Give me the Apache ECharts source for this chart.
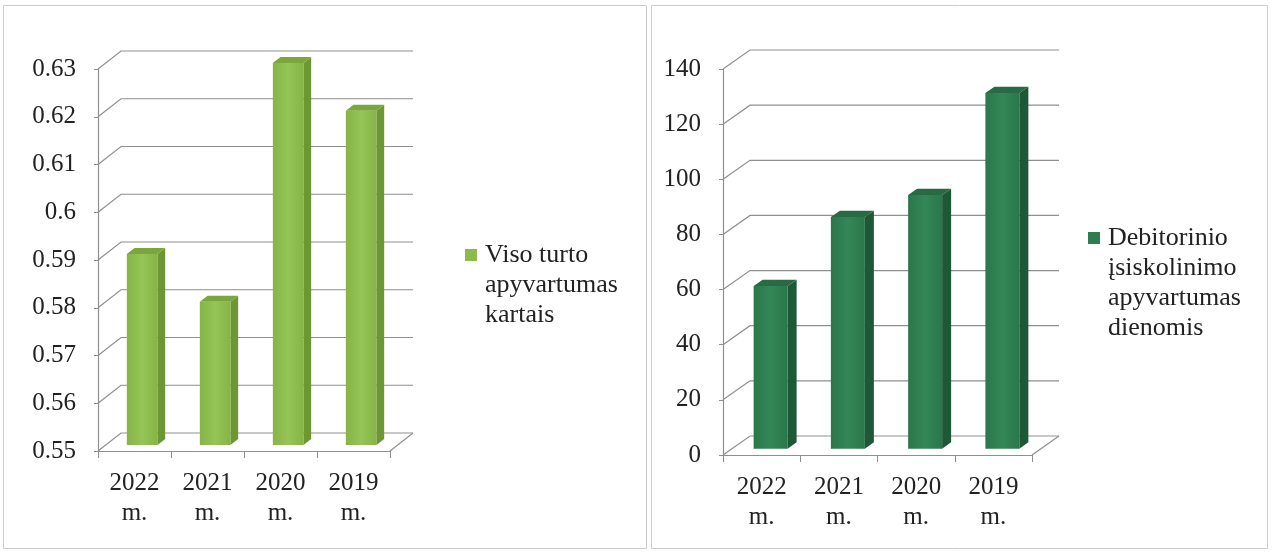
<!DOCTYPE html>
<html>
<head>
<meta charset="utf-8">
<title>Apyvartumas</title>
<script src="https://cdn.jsdelivr.net/npm/echarts@6/dist/echarts.min.js"></script>
<style>
html, body { margin: 0; padding: 0; background: #fff; }
#chart { width: 1272px; height: 553px; }
</style>
</head>
<body>
<div id="chart"></div>
<script>
// duomenys
var years = ['2022 m.', '2021 m.', '2020 m.', '2019 m.'];
var turtoValues = [0.59, 0.58, 0.63, 0.62];
var debitValues = [59, 84, 92, 129];
var turtoTicks = [0.55, 0.56, 0.57, 0.58, 0.59, 0.6, 0.61, 0.62, 0.63];
var debitTicks = [0, 20, 40, 60, 80, 100, 120, 140];
var turtoLines = ['Viso turto', 'apyvartumas', 'kartais'];
var debitLines = ['Debitorinio', 'įsiskolinimo', 'apyvartumas', 'dienomis'];

var turtoName = turtoLines.join(' ');
var debitName = debitLines.join(' ');

var myChart = echarts.init(document.getElementById('chart'));
var font = 'Liberation Serif';
var lineColor = '#8f8f8f';
var textColor = '#222';

// back wall lines (3d look): diagonal from the front axis, then the horizontal line
function wallItem(dx, dy) {
    return function (params, api) {
        var cs = params.coordSys;
        var y = api.coord([0, api.value(1)])[1];
        var style = { stroke: lineColor, lineWidth: 1.2, fill: null };
        var children = [{
            type: 'polyline',
            shape: { points: [[cs.x, y], [cs.x + dx, y + dy], [cs.x + cs.width + dx, y + dy]] },
            style: style
        }];
        if (params.dataIndex === 0) {
            // floor, right edge
            children.push({
                type: 'line',
                shape: { x1: cs.x + cs.width, y1: y, x2: cs.x + cs.width + dx, y2: y + dy },
                style: style
            });
        }
        return { type: 'group', children: children };
    };
}

// 3d bar: front face, side face, top face
function barItem(dx, dy, ratio, base, colors) {
    return function (params, api) {
        var c = api.coord([api.value(0), api.value(1)]);
        var b = api.coord([api.value(0), base]);
        var w = api.size([1, 0])[0] * ratio;
        var sx = dx / 3, sy = dy / 3;
        var x0 = c[0] - w / 2 + sx, x1 = x0 + w;
        var yt = c[1] + sy, yb = b[1] + sy;
        return {
            type: 'group',
            children: [{
                type: 'rect',
                shape: { x: x0, y: yt, width: w, height: yb - yt },
                style: {
                    fill: new echarts.graphic.LinearGradient(0, 0, 1, 0, [
                        { offset: 0, color: colors[0] },
                        { offset: 0.5, color: colors[1] },
                        { offset: 1, color: colors[0] }
                    ])
                }
            }, {
                type: 'polygon',
                shape: { points: [[x1, yt], [x1 + sx, yt + sy], [x1 + sx, yb + sy], [x1, yb]] },
                style: { fill: colors[2] }
            }, {
                type: 'polygon',
                shape: { points: [[x0, yt], [x0 + sx, yt + sy], [x1 + sx, yt + sy], [x1, yt]] },
                style: { fill: colors[3] }
            }]
        };
    };
}

function pairs(values) {
    return values.map(function (v, i) { return [i, v]; });
}

function xAxisOf(gridIndex, margin) {
    return {
        gridIndex: gridIndex,
        type: 'category',
        data: years,
        boundaryGap: true,
        axisLine: { lineStyle: { color: lineColor, width: 1.2 } },
        axisTick: { show: true, length: 7, lineStyle: { color: lineColor } },
        axisLabel: {
            interval: 0,
            formatter: function (s) { return s.replace(' ', '\n'); },
            fontFamily: font,
            fontSize: 25,
            lineHeight: 30,
            color: textColor,
            margin: margin
        }
    };
}

function yAxisOf(gridIndex, ticks) {
    return {
        gridIndex: gridIndex,
        type: 'value',
        min: ticks[0],
        max: ticks[ticks.length - 1],
        interval: Math.round((ticks[1] - ticks[0]) * 1e6) / 1e6,
        axisLine: { show: true, lineStyle: { color: lineColor, width: 1.2 } },
        axisTick: { show: true, length: 4, lineStyle: { color: lineColor } },
        splitLine: { show: false },
        axisLabel: {
            formatter: function (v) { return String(Math.round(v * 1e6) / 1e6); },
            fontFamily: font,
            fontSize: 25,
            color: textColor,
            margin: 22
        }
    };
}

function legendFormatter(name) {
    var lines = name === turtoName ? turtoLines : debitLines;
    // tuščios eilutės, kad kvadratėlis būtų ties pirma eilute
    var pad = '';
    for (var i = 1; i < lines.length; i++) pad += '\n';
    return pad + lines.join('\n');
}

var legendText = {
    fontFamily: font,
    fontSize: 26,
    lineHeight: 30,
    color: textColor,
    padding: [0, 0, 0, 3]
};

var option = {
    animation: false,
    backgroundColor: '#fff',
    graphic: [{
        type: 'rect',
        shape: { x: 3.5, y: 5.5, width: 643, height: 543 },
        style: { fill: null, stroke: '#cdcdcd', lineWidth: 1 }
    }, {
        type: 'rect',
        shape: { x: 651.5, y: 5.5, width: 616, height: 543 },
        style: { fill: null, stroke: '#cdcdcd', lineWidth: 1 }
    }],
    legend: [{
        data: [turtoName],
        left: 465,
        top: 255 - 2.5 * 30,
        padding: 0,
        icon: 'rect',
        itemWidth: 12,
        itemHeight: 12,
        formatter: legendFormatter,
        textStyle: legendText
    }, {
        data: [debitName],
        left: 1088,
        top: 238 - 3.5 * 30,
        padding: 0,
        icon: 'rect',
        itemWidth: 12,
        itemHeight: 12,
        formatter: legendFormatter,
        textStyle: legendText
    }],
    grid: [
        { left: 98, top: 69, width: 292, height: 382, outerBoundsMode: 'none' },
        { left: 723, top: 69, width: 309, height: 386, outerBoundsMode: 'none' }
    ],
    xAxis: [xAxisOf(0, 17), xAxisOf(1, 17)],
    yAxis: [yAxisOf(0, turtoTicks), yAxisOf(1, debitTicks)],
    series: [{
        name: 'wall1',
        type: 'custom',
        xAxisIndex: 0,
        yAxisIndex: 0,
        silent: true,
        z: 1,
        renderItem: wallItem(23, -18),
        data: turtoTicks.map(function (t) { return [0, t]; })
    }, {
        name: turtoName,
        type: 'custom',
        xAxisIndex: 0,
        yAxisIndex: 0,
        z: 2,
        itemStyle: { color: '#8cba4c' },
        renderItem: barItem(23, -18, 0.42, turtoTicks[0], ['#86b446', '#95c457', '#6c9733', '#7ba63e']),
        data: pairs(turtoValues)
    }, {
        name: 'wall2',
        type: 'custom',
        xAxisIndex: 1,
        yAxisIndex: 1,
        silent: true,
        z: 1,
        renderItem: wallItem(27, -19),
        data: debitTicks.map(function (t) { return [0, t]; })
    }, {
        name: debitName,
        type: 'custom',
        xAxisIndex: 1,
        yAxisIndex: 1,
        z: 2,
        itemStyle: { color: '#2e7d50' },
        renderItem: barItem(27, -19, 0.44, debitTicks[0], ['#2a774b', '#348657', '#1d5837', '#276a44']),
        data: pairs(debitValues)
    }]
};

myChart.setOption(option);
</script>
</body>
</html>
